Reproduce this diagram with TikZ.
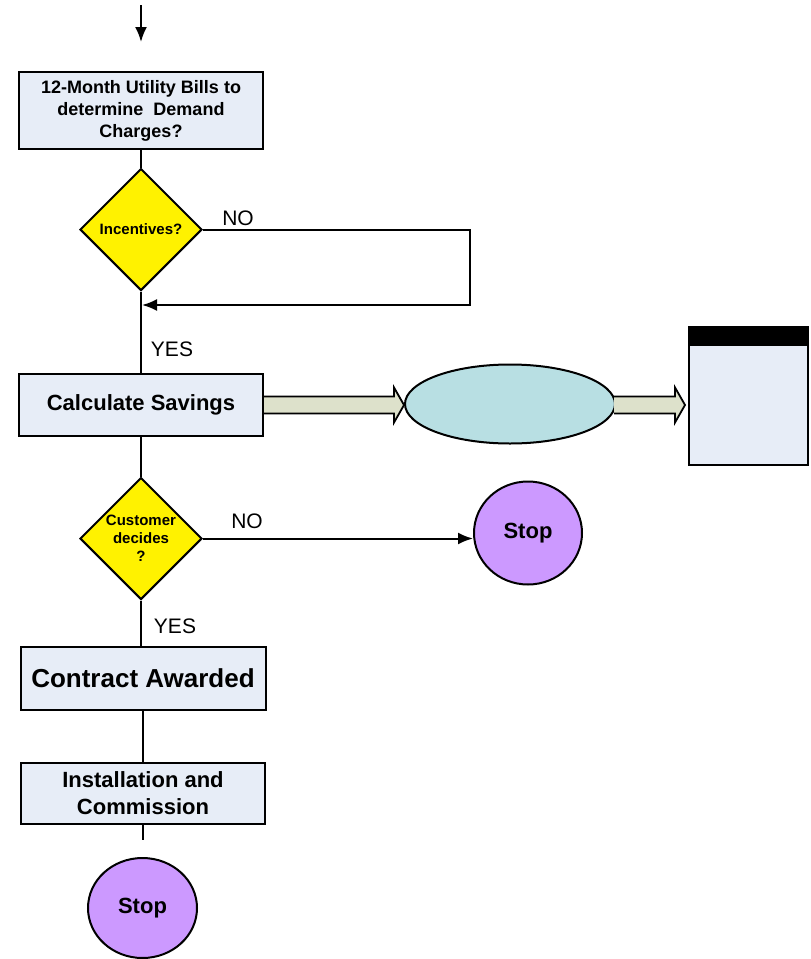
\documentclass[tikz,border=0pt]{standalone}
\usepackage{fontspec}
\setmainfont{Liberation Sans}
\usetikzlibrary{shapes.geometric,arrows.meta,calc}
\definecolor{boxblue}{HTML}{E7EDF7}
\definecolor{stoppurple}{HTML}{CC99FF}
\definecolor{ovalblue}{HTML}{B8DFE3}
\definecolor{arrowolive}{HTML}{DDE1CB}

\begin{document}
\begin{tikzpicture}[x=1pt,y=-1pt,
  stepbox/.style={draw,line width=2pt,fill=boxblue,inner sep=0pt,align=center,font=\bfseries},
  decision/.style={diamond,aspect=1,draw,line width=2pt,fill=yellow,inner sep=0pt,align=center,
    minimum size=122pt,font=\fontsize{15}{18}\selectfont\bfseries},
  stopnode/.style={ellipse,draw,line width=2pt,fill=stoppurple,inner sep=0pt,
    font=\fontsize{22}{26}\selectfont\bfseries},
  line/.style={line width=2pt},
  arrow/.style={line,-{Latex[length=15pt,width=12pt]}},
  answer/.style={font=\fontsize{21}{25}\selectfont},
  fatarrow/.style={draw,line width=1.8pt,fill=arrowolive,line join=miter}]
\useasboundingbox (0,0) rectangle (811,959);

% main column
\node[stepbox,minimum width=244pt,minimum height=77pt,font=\fontsize{18}{22}\selectfont\bfseries] (bills) at (141,110.5)
  {12-Month Utility Bills to\\determine\ \ Demand\\Charges?};
\node[decision] (incent) at (141,229.5) {Incentives?};
\node[stepbox,minimum width=244pt,minimum height=62pt,font=\fontsize{22}{26}\selectfont\bfseries] (calc) at (141,405) {Calculate Savings};
\node[decision] (decide) at (141,538.5) {Customer\\decides\\?};
\node[stepbox,minimum width=245pt,minimum height=63pt,font=\fontsize{26}{30}\selectfont\bfseries] (award) at (143,678.5) {Contract Awarded};
\node[stepbox,minimum width=244pt,minimum height=61pt,font=\fontsize{22}{27}\selectfont\bfseries] (install) at (143,793.5)
  {Installation and\\Commission};
\node[stopnode,minimum width=109pt,minimum height=100pt] (stopB) at (142.5,908) {Stop};

% right side
\node[stopnode,minimum width=108pt,minimum height=103pt] (stopA) at (528,533) {Stop};
\node[ellipse,draw,line width=2pt,fill=ovalblue,minimum width=210pt,minimum height=79pt] (oval) at (510,404) {};
\node[draw,line width=2pt,fill=boxblue,minimum width=119pt,minimum height=138pt] (data) at (748.5,396) {};
\fill (data.north west) rectangle ($(data.north east)+(0,20)$);

% connectors
\coordinate (in) at (141,5);
\coordinate (inend) at (141,42);
\draw[arrow] (in) -- (inend);
\draw[line] (bills) -- (incent);
\coordinate (loopcorner) at (470,305);
\coordinate (loopback) at (142,305);
\draw[arrow] (incent.east) -| (loopcorner) -- (loopback);
\node[answer] (no1) at (238,218) {NO};
\draw[line] (incent) -- (calc);
\node[answer] (yes1) at (172,349) {YES};
\draw[line] (calc) -- (decide);
\draw[arrow] (decide.east) -- (decide.east -| stopA.west);
\node[answer] (no2) at (247,521) {NO};
\draw[line] (decide.south) -- (decide.south |- award.north);
\node[answer] (yes2) at (175,626) {YES};
\draw[line] (award) -- (install);
\coordinate (stub) at (143,840);
\draw[line] (install) -- (stub);

% fat arrows
\coordinate (tipA) at (calc.east -| oval.west);
\coordinate (tailB) at ($(calc.east -| oval.east)+(-2,0)$);
\coordinate (tipB) at ($(calc.east -| data.west)+(-3,0)$);
\filldraw[fatarrow] ($(calc.east)+(0,-8.5)$) -- ($(tipA)+(-10,-8.5)$) -- ($(tipA)+(-10,-17.5)$)
  -- (tipA) -- ($(tipA)+(-10,17.5)$) -- ($(tipA)+(-10,8.5)$) -- ($(calc.east)+(0,8.5)$);
\filldraw[fatarrow] ($(tailB)+(0,-8.5)$) -- ($(tipB)+(-10,-8.5)$) -- ($(tipB)+(-10,-17.5)$)
  -- (tipB) -- ($(tipB)+(-10,17.5)$) -- ($(tipB)+(-10,8.5)$) -- ($(tailB)+(0,8.5)$);
\end{tikzpicture}
\end{document}
